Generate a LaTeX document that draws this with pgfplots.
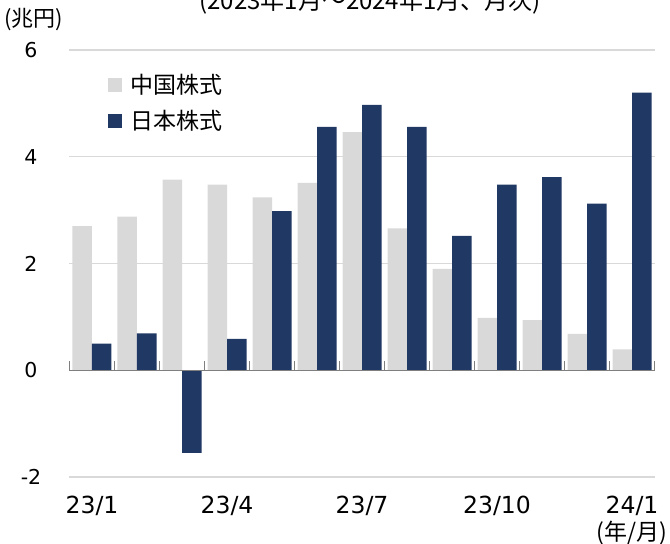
\documentclass[border=0pt]{standalone}
\usepackage{pgfplots}
\pgfplotsset{compat=1.18}
\usepackage{pgfplotstable}
\usepackage{fontspec}
\setmainfont{DejaVu Sans}
\newfontfamily\jp{Noto Sans CJK JP}
\definecolor{cn}{HTML}{D9D9D9}
\definecolor{jpn}{HTML}{1F3864}
\definecolor{gridc}{HTML}{D9D9D9}
\definecolor{axc}{HTML}{7F7F7F}

\pgfplotstableread{
x cn jp
0 2.70 0.50
1 2.88 0.69
2 3.57 -1.55
3 3.48 0.59
4 3.24 2.98
5 3.51 4.56
6 4.46 4.97
7 2.66 4.56
8 1.90 2.52
9 0.98 3.48
10 0.94 3.62
11 0.68 3.12
12 0.39 5.20
}\data

\begin{document}
\begin{tikzpicture}[font=\fontsize{20.5}{24}\selectfont]
\begin{axis}[
  at={(69.5pt,-477pt)}, anchor=south west,
  scale only axis, width=585pt, height=427pt,
  xmin=-0.5, xmax=12.5, ymin=-2, ymax=6,
  axis line style={draw=none},
  major tick length=0pt,
  ybar=0pt, bar width=19.5pt,
  ytick={-2,2,4,6},
  extra y ticks={0},
  ymajorgrids, grid style={gridc, line width=1.3pt},
  extra y tick style={grid style={gridc, line width=1.3pt}},
  yticklabel style={anchor=center, xshift=-38.5pt, font=\fontsize{20.5}{24}\selectfont},
  xtick={0,3,6,9,12},
  xticklabels={23/1,23/4,23/7,23/10,24/1},
  xticklabel style={anchor=center, yshift=-29pt, font=\fontsize{23.5}{28}\selectfont},
  /pgf/number format/assume math mode=true,
  clip=false,
  legend style={at={(0.0658,0.948)}, anchor=north west, draw=none, fill=none,
    font=\jp\fontsize{23}{27}\selectfont, row sep=11pt, inner sep=0pt},
  legend cell align=left,
]
\addplot[fill=cn, draw=none, legend image code/.code={\fill[cn] (0pt,-7pt) rectangle (14pt,7pt); \path (20pt,0pt);}] table[x=x,y=cn]{\data};
\addlegendentry{中国株式}
\addplot[fill=jpn, draw=none, legend image code/.code={\fill[jpn] (0pt,-7pt) rectangle (14pt,7pt); \path (20pt,0pt);}] table[x=x,y=jp]{\data};
\addlegendentry{日本株式}
\draw[axc, line width=1.5pt] (axis cs:-0.5,0) -- (axis cs:12.5,0);
\pgfplotsinvokeforeach{-0.5,0.5,1.5,2.5,3.5,4.5,5.5,6.5,7.5,8.5,9.5,10.5,11.5,12.5}{
  \draw[axc, line width=1.5pt] (axis cs:#1,0) -- ([yshift=9pt]axis cs:#1,0);
}
\end{axis}
\node[anchor=base, font=\jp\fontsize{24}{28}\selectfont] at (370pt,-9pt) {(2023年1月～2024年1月、月次)};
\node[anchor=west, font=\jp\fontsize{22}{26}\selectfont, inner sep=0pt] at (4pt,-20pt) {(兆円)};
\node[anchor=center, font=\jp\fontsize{23}{27}\selectfont] at (632pt,-533pt) {(年/月)};
\pgfresetboundingbox
\useasboundingbox (0,0) rectangle (670pt,-544pt);
\end{tikzpicture}
\end{document}
